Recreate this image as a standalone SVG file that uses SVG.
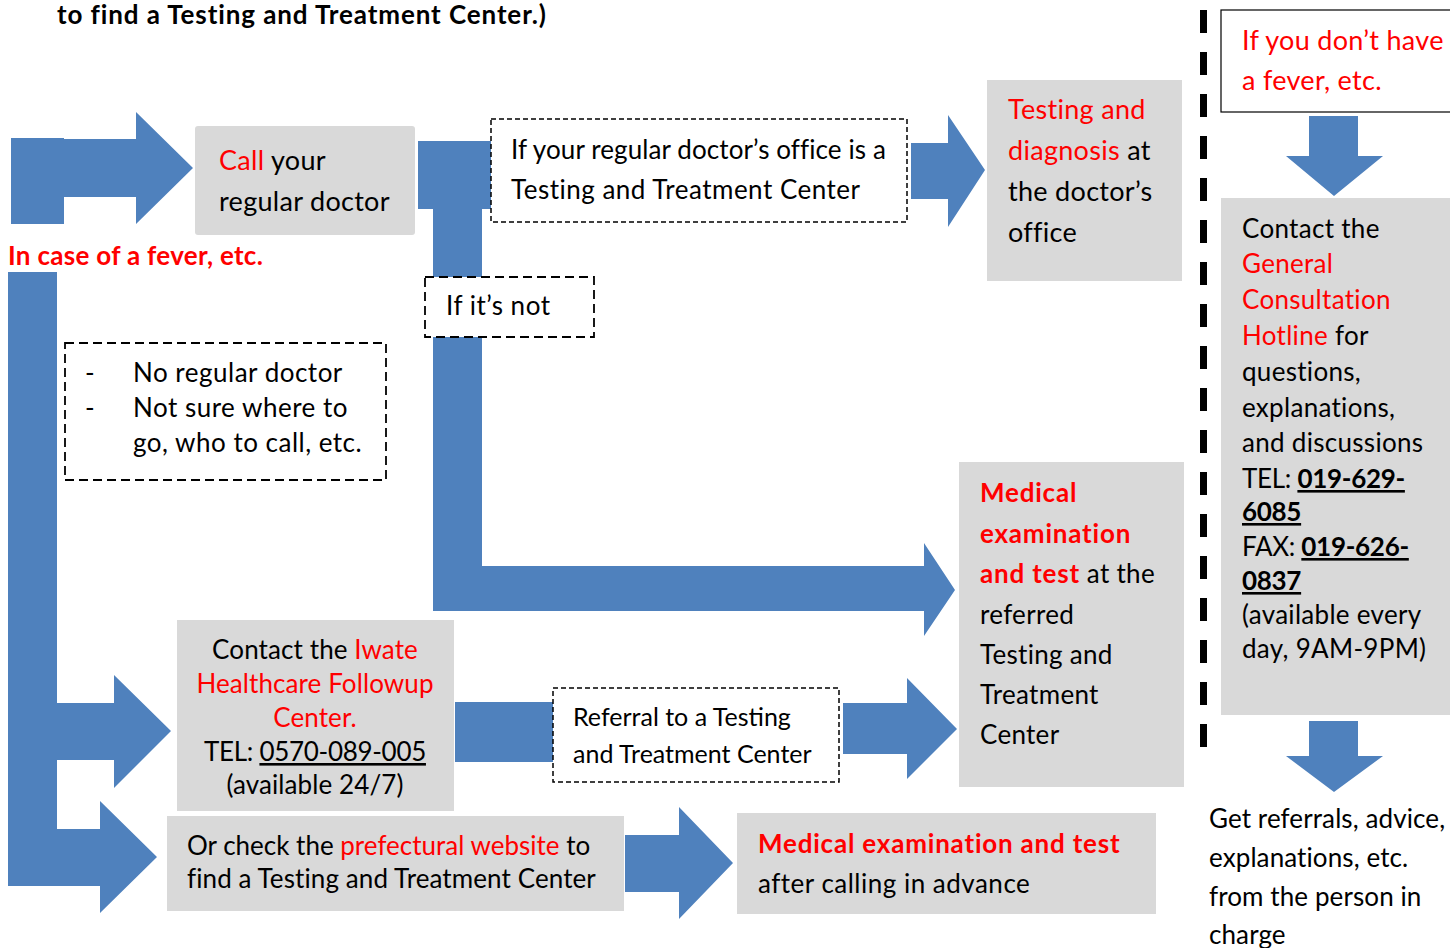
<svg xmlns="http://www.w3.org/2000/svg" width="1450" height="948" viewBox="0 0 1450 948">
<style>
.t{font-family:Lato,"Liberation Sans",sans-serif;font-size:26px;fill:#000;letter-spacing:0.1px}
.s27{font-size:27px;letter-spacing:0.3px}
.s25{font-size:25px;letter-spacing:0}
.w3{letter-spacing:0.3px}
.w5{letter-spacing:0.5px}
.r{fill:#ff0000}
.b{font-weight:bold;letter-spacing:0.8px}
.u{text-decoration:underline}
.box{fill:#d9d9d9}
.dash{fill:#fff;stroke:#000;stroke-width:1.5;stroke-dasharray:5 3}
.dashl{fill:#fff;stroke:#000;stroke-width:1.8;stroke-dasharray:9 5}
.arr{fill:#4f81bd}
</style>
<rect width="1450" height="948" fill="#fff"/>
<text class="t b" x="57" y="24" style="letter-spacing:0.9px">to find a Testing and Treatment Center.)</text>

<g id="connectors">
<path class="arr" d="M11,138 H64 V139 H136 V112 L193,168 L136,224 V197 H64 V224 H11 Z"/>
<path class="arr" d="M418,141 H491 V209 H482 V566 H924 V543 L955,590 L924,636 V611 H433 V209 H418 Z"/>
<path class="arr" d="M911,143 H948 V115 L985,170 L948,227 V199 H911 Z"/>
<path class="arr" d="M8,272 H57 V703 H114 V675 L171,731 L114,788 V760 H57 V829 H100 V801 L157,857 L100,913 V886 H8 Z"/>
<rect class="arr" x="455" y="702" width="98" height="60"/>
<path class="arr" d="M843,703 H907 V678 L957,729 L907,779 V754 H843 Z"/>
<path class="arr" d="M625,835 H679 V807 L733,863 L679,919 V892 H625 Z"/>
<path class="arr" d="M1309,116 H1358 V156 H1383 L1334,196 L1286,156 H1309 Z"/>
<path class="arr" d="M1309,721 H1358 V756 H1383 L1334,792 L1286,756 H1309 Z"/>
<line x1="1203.5" y1="10" x2="1203.5" y2="747" stroke="#000" stroke-width="7" stroke-dasharray="23 19"/>
</g>

<g id="fever-label">
<text class="t b r" x="8" y="265" style="letter-spacing:0.3px">In case of a fever, etc.</text>
</g>

<g id="call-doctor">
<rect class="box" x="195" y="126" width="220" height="109" rx="3"/>
<text class="t s27" x="219" y="170"><tspan class="r">Call</tspan> your</text>
<text class="t s27" x="219" y="211">regular doctor</text>
</g>

<g id="if-regular">
<rect class="dash" x="491" y="119" width="416" height="103"/>
<text class="t" x="511" y="159">If your regular doctor’s office is a</text>
<text class="t w5" x="511" y="199">Testing and Treatment Center</text>
</g>

<g id="if-not">
<rect class="dashl" x="425" y="277" width="169" height="60"/>
<text class="t w5" x="446" y="315">If it’s not</text>
</g>

<g id="testing-diagnosis">
<rect class="box" x="987" y="80" width="195" height="201"/>
<text class="t s27" x="1008" y="119"><tspan class="r">Testing and</tspan></text>
<text class="t s27" x="1008" y="160"><tspan class="r">diagnosis</tspan> at</text>
<text class="t s27" x="1008" y="201">the doctor’s</text>
<text class="t s27" x="1008" y="242">office</text>
</g>

<g id="no-regular">
<rect class="dashl" x="65" y="343" width="321" height="137"/>
<text class="t" x="85" y="382">-</text>
<text class="t w5" x="133" y="382">No regular doctor</text>
<text class="t" x="85" y="417">-</text>
<text class="t w5" x="133" y="417">Not sure where to</text>
<text class="t w5" x="133" y="452">go, who to call, etc.</text>
</g>

<g id="medical-referred">
<rect class="box" x="959" y="462" width="225" height="325"/>
<text class="t b r" x="980" y="502">Medical</text>
<text class="t b r" x="980" y="543">examination</text>
<text class="t w3" x="980" y="583"><tspan class="b r">and test</tspan> at the</text>
<text class="t w3" x="980" y="624">referred</text>
<text class="t w3" x="980" y="664">Testing and</text>
<text class="t w3" x="980" y="704">Treatment</text>
<text class="t w3" x="980" y="744">Center</text>
</g>

<g id="iwate">
<rect class="box" x="177" y="620" width="277" height="191"/>
<text class="t" x="315" y="659" text-anchor="middle">Contact the <tspan class="r">Iwate</tspan></text>
<text class="t r" x="315" y="693" text-anchor="middle">Healthcare Followup</text>
<text class="t r" x="315" y="727" text-anchor="middle">Center.</text>
<text class="t" x="315" y="761" text-anchor="middle" style="letter-spacing:-0.3px">TEL: <tspan class="u">0570-089-005</tspan></text>
<text class="t" x="315" y="794" text-anchor="middle">(available 24/7)</text>
</g>

<g id="referral">
<rect class="dash" x="553" y="688" width="286" height="94"/>
<text class="t s25" x="573" y="726">Referral to a Testing</text>
<text class="t s25" x="573" y="763">and Treatment Center</text>
</g>

<g id="prefectural">
<rect class="box" x="167" y="816" width="457" height="95"/>
<text class="t" x="187" y="855" style="letter-spacing:0">Or check the <tspan class="r">prefectural website</tspan> to</text>
<text class="t" x="187" y="888">find a Testing and Treatment Center</text>
</g>

<g id="medical-advance">
<rect class="box" x="737" y="813" width="419" height="101"/>
<text class="t b r" x="758" y="853">Medical examination and test</text>
<text class="t w5" x="758" y="893">after calling in advance</text>
</g>

<g id="no-fever">
<rect x="1221" y="10" width="240" height="102" fill="#fff" stroke="#000" stroke-width="1.2"/>
<text class="t r s27" x="1242" y="50">If you don’t have</text>
<text class="t r s27" x="1242" y="90">a fever, etc.</text>
</g>

<g id="hotline">
<rect class="box" x="1221" y="198" width="240" height="517"/>
<text class="t w3" x="1242" y="238">Contact the</text>
<text class="t r w3" x="1242" y="273">General</text>
<text class="t r w3" x="1242" y="309">Consultation</text>
<text class="t w3" x="1242" y="345"><tspan class="r">Hotline</tspan> for</text>
<text class="t w3" x="1242" y="381">questions,</text>
<text class="t w3" x="1242" y="417">explanations,</text>
<text class="t w3" x="1242" y="452">and discussions</text>
<text class="t" x="1242" y="488" style="letter-spacing:-0.3px">TEL: <tspan class="b u" style="letter-spacing:-0.3px">019-629-</tspan></text>
<text class="t b u" x="1242" y="521" style="letter-spacing:-0.3px">6085</text>
<text class="t" x="1242" y="556" style="letter-spacing:-0.3px">FAX: <tspan class="b u" style="letter-spacing:-0.3px">019-626-</tspan></text>
<text class="t b u" x="1242" y="590" style="letter-spacing:-0.3px">0837</text>
<text class="t w3" x="1242" y="624">(available every</text>
<text class="t w3" x="1242" y="658">day, 9AM-9PM)</text>
</g>

<g id="get-referrals">
<text class="t" x="1209" y="828">Get referrals, advice,</text>
<text class="t" x="1209" y="867">explanations, etc.</text>
<text class="t" x="1209" y="906">from the person in</text>
<text class="t" x="1209" y="944">charge</text>
</g>
</svg>
